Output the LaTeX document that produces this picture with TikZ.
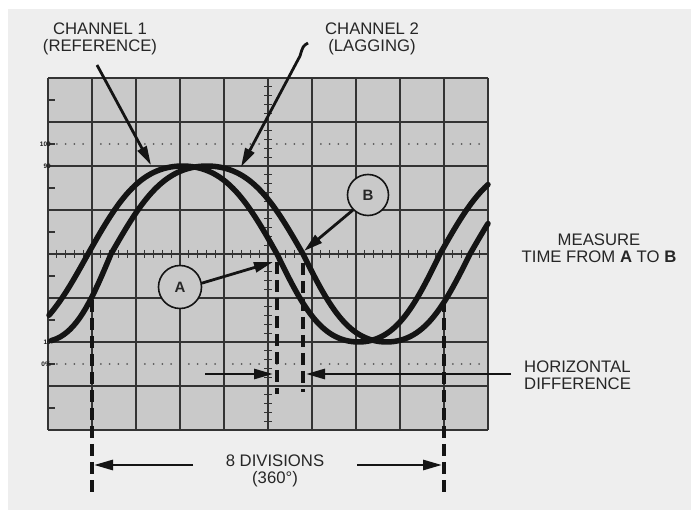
\documentclass[tikz,border=0pt]{standalone}
\usepackage{fontspec}
\setmainfont{Liberation Sans}
\usetikzlibrary{arrows.meta}
\definecolor{bgc}{RGB}{238,238,238}
\definecolor{gridfill}{RGB}{201,201,201}
\definecolor{ink}{RGB}{20,20,20}
\begin{document}
\begin{tikzpicture}[x=1pt,y=-1pt,
  declare function={S(\t)=(sin(\t)+0.05*sin(3*\t))/0.95;},
  wave/.style={line width=5.5pt, draw=ink, line cap=round, line join=round},
  arr/.style={line width=2.8pt, draw=ink, -{Triangle[length=19pt,width=10pt]}},
  dashv/.style={line width=3.5pt, draw=ink, dash pattern=on 12pt off 6pt},
  gridl/.style={line width=1.15pt, draw=black!80},
  lbl/.style={font=\fontsize{16.7}{17}\selectfont, text=black!85, align=center, inner sep=0pt},
  tiny/.style={font=\bfseries\fontsize{6.5}{7}\selectfont, text=black!90, inner sep=0pt, anchor=east},
  circ/.style={circle, draw=ink, line width=1.6pt, fill=gridfill, minimum size=43pt, inner sep=0pt, font=\bfseries\fontsize{15}{15}\selectfont, text=black!85}
]
\useasboundingbox (0,0) rectangle (691,510);
\fill[white] (0,0) rectangle (691,510);
\fill[bgc] (8,9) rectangle (691,510);
% screen
\fill[gridfill] (48,78) rectangle (488,430);
\foreach \i in {0,...,10} \draw[gridl] ({48+44*\i},78) -- ({48+44*\i},430);
\foreach \j in {0,...,8} \draw[gridl] (48,{78+44*\j}) -- (488,{78+44*\j});
\foreach \k in {0,...,50} \draw[gridl] ({48+8.8*\k},250) -- ({48+8.8*\k},258);
\foreach \k in {0,...,40} \draw[gridl] (264,{78+8.8*\k}) -- (272,{78+8.8*\k});
\foreach \j in {0,...,7} \draw[gridl] (48,{100+44*\j}) -- (55,{100+44*\j});
\foreach \c in {0,...,9} \foreach \d in {1,...,4} {
  \fill[black!65] ({48+44*\c+8.8*\d},144) circle (1pt);
  \fill[black!65] ({48+44*\c+8.8*\d},364) circle (1pt);
}
\node[tiny] (l100) at (51,144) {100};
\node[tiny] (l90) at (51,166) {90};
\node[tiny] (l10) at (51,342) {10};
\node[tiny] (l0) at (51,364) {0\%};
% dashed markers
\coordinate (d1t) at (92,300); \coordinate (d1b) at (92,492);
\coordinate (d2t) at (444,300); \coordinate (d2b) at (444,492);
\coordinate (dat) at (277,262); \coordinate (dab) at (277,394);
\coordinate (dbt) at (303,263); \coordinate (dbb) at (303,392);
\draw[dashv] (d1t) -- (d1b);
\draw[dashv] (d2t) -- (d2b);
\draw[dashv] (dat) -- (dab);
\draw[dashv] (dbt) -- (dbb);
% channel 2 (lagging)
\draw[wave] plot[domain=51:111,samples=20] (\x,{254+88*S((111-\x)*(180/140))})
  -- plot[domain=111:303,samples=70] (\x,{254-88*S((\x-111)*(180/192))})
  -- plot[domain=303:470,samples=60] (\x,{254+88*S((\x-303)*(180/167))})
  -- plot[domain=470:488,samples=8] (\x,{254-88*S((\x-470)*(180/192))});
% channel 1 (reference)
\draw[wave] plot[domain=49:88,samples=15] (\x,{254+88*S((88-\x)*(180/185))})
  -- plot[domain=88:277,samples=70] (\x,{254-88*S((\x-88)*(180/189))})
  -- plot[domain=277:440,samples=60] (\x,{254+88*S((\x-277)*(180/163))})
  -- plot[domain=440:488,samples=15] (\x,{254-88*S((\x-440)*(180/189))});
% circles
\node[circ] (A) at (180,287) {A};
\node[circ, minimum size=41pt] (B) at (368,195) {B};
% arrows
\coordinate (c1tail) at (97,65); \coordinate (c1tip) at (151,165);
\draw[arr] (c1tail) -- (c1tip);
\coordinate (c2tail) at (308,43); \coordinate (c2tip) at (241,167);
\draw[arr] (c2tail) .. controls (303,46) .. (300,56) -- (c2tip);
\coordinate (atip) at (273,262);
\draw[arr] (A.10) -- (atip);
\coordinate (btip) at (304,251);
\draw[arr] (B.225) -- (btip);
\coordinate (hlt) at (205,374); \coordinate (hlh) at (273,374);
\draw[arr] (hlt) -- (hlh);
\coordinate (hrt) at (511,374); \coordinate (hrh) at (306,374);
\draw[arr] (hrt) -- (hrh);
\coordinate (dlt) at (193,465); \coordinate (dlh) at (94,465);
\draw[arr] (dlt) -- (dlh);
\coordinate (drt) at (357,465); \coordinate (drh) at (442,465);
\draw[arr] (drt) -- (drh);
% labels
\node[lbl] (t1) at (100,39.2) {CHANNEL 1\\(REFERENCE)};
\node[lbl] (t2) at (372,39.2) {CHANNEL 2\\(LAGGING)};
\node[lbl] (t3) at (599,248.4) {MEASURE\\TIME FROM \textbf{A} TO \textbf{B}};
\node[lbl, align=left, anchor=west] (t4) at (524,375.4) {HORIZONTAL\\DIFFERENCE};
\node[lbl] (t5) at (275,471.2) {8 DIVISIONS\\(360°)};
\end{tikzpicture}
\end{document}
